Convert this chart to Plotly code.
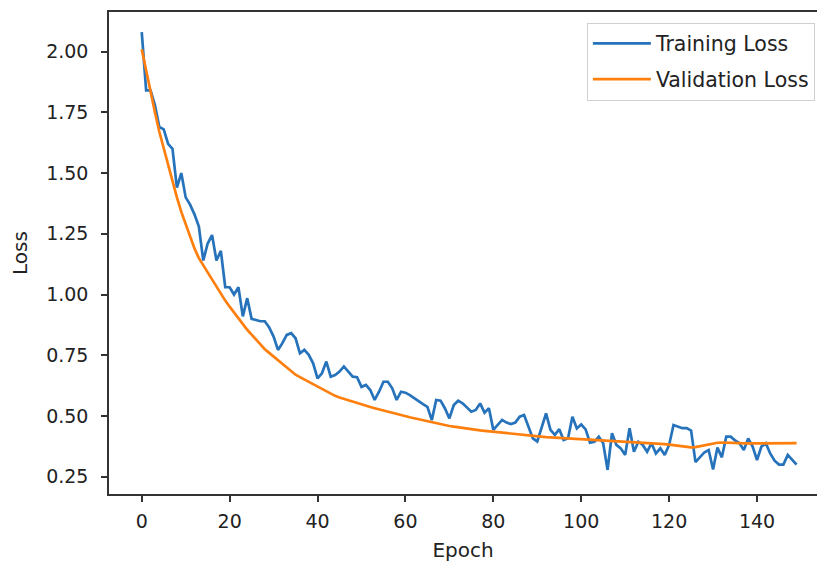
import plotly.graph_objects as go

epochs = list(range(150))

train_loss = [
    2.08, 1.84, 1.84, 1.78, 1.69, 1.68, 1.62, 1.60, 1.44, 1.50,
    1.40, 1.37, 1.33, 1.28, 1.14, 1.21, 1.245, 1.14, 1.18, 1.03,
    1.03, 1.00, 1.03, 0.91, 0.985, 0.90, 0.895, 0.89, 0.89, 0.865,
    0.827, 0.772, 0.80, 0.834, 0.841, 0.82, 0.758, 0.772, 0.752, 0.717,
    0.655, 0.676, 0.724, 0.662, 0.669, 0.683, 0.704, 0.683, 0.662, 0.66,
    0.62, 0.628, 0.607, 0.566, 0.60, 0.641, 0.641, 0.614, 0.566, 0.60,
    0.596, 0.586, 0.573, 0.559, 0.549, 0.538, 0.483, 0.566, 0.563, 0.531,
    0.49, 0.545, 0.563, 0.552, 0.535, 0.518, 0.525, 0.552, 0.514, 0.532,
    0.443, 0.463, 0.484, 0.473, 0.467, 0.473, 0.497, 0.504, 0.454, 0.408,
    0.395, 0.456, 0.511, 0.443, 0.422, 0.446, 0.401, 0.408, 0.497, 0.449,
    0.465, 0.445, 0.39, 0.394, 0.415, 0.388, 0.278, 0.429, 0.381, 0.367,
    0.34, 0.45, 0.353, 0.394, 0.381, 0.353, 0.388, 0.346, 0.367, 0.34,
    0.381, 0.463, 0.456, 0.45, 0.45, 0.44, 0.31, 0.33, 0.35, 0.36,
    0.28, 0.37, 0.33, 0.415, 0.415, 0.40, 0.388, 0.36, 0.408, 0.374,
    0.319, 0.374, 0.388, 0.346, 0.316, 0.30, 0.30, 0.34, 0.32, 0.30,
]

val_loss = [
    2.01, 1.92, 1.83, 1.75, 1.67, 1.60, 1.53, 1.46, 1.40, 1.34,
    1.29, 1.24, 1.19, 1.15, 1.12, 1.09, 1.06, 1.03, 1.00, 0.975,
    0.95, 0.925, 0.90, 0.88, 0.855, 0.835, 0.815, 0.795, 0.775, 0.76,
    0.745, 0.73, 0.715, 0.70, 0.685, 0.67, 0.66, 0.65, 0.64, 0.63,
    0.62, 0.61, 0.60, 0.59, 0.583, 0.576, 0.57, 0.564, 0.558, 0.552,
    0.547, 0.542, 0.537, 0.532, 0.527, 0.522, 0.517, 0.512, 0.507, 0.503,
    0.499, 0.495, 0.491, 0.487, 0.483, 0.479, 0.472, 0.468, 0.465, 0.462,
    0.459, 0.456, 0.453, 0.450, 0.447, 0.445, 0.443, 0.441, 0.439, 0.437,
    0.435, 0.433, 0.431, 0.429, 0.427, 0.425, 0.423, 0.421, 0.419, 0.417,
    0.415, 0.414, 0.413, 0.412, 0.411, 0.410, 0.409, 0.408, 0.407, 0.406,
    0.405, 0.404, 0.403, 0.402, 0.401, 0.400, 0.400, 0.399, 0.398, 0.397,
    0.396, 0.395, 0.394, 0.393, 0.392, 0.391, 0.389, 0.388, 0.386, 0.384,
    0.382, 0.380, 0.378, 0.375, 0.372, 0.371, 0.372, 0.376, 0.381, 0.385,
    0.388, 0.390, 0.391, 0.391, 0.390, 0.389, 0.388, 0.387, 0.387, 0.388,
    0.389, 0.389, 0.389, 0.390, 0.390, 0.390, 0.390, 0.389, 0.389, 0.388,
]

x_ticks = [0, 20, 40, 60, 80, 100, 120, 140]
y_ticks = [0.25, 0.50, 0.75, 1.00, 1.25, 1.50, 1.75, 2.00]
y_tick_labels = ["0.25", "0.50", "0.75", "1.00", "1.25", "1.50", "1.75", "2.00"]

FONT = "DejaVu Sans"
TXT = "#222222"
AX = "#333333"

fig = go.Figure()
fig.add_trace(go.Scatter(
    x=epochs, y=train_loss, mode="lines", name="Training Loss",
    line=dict(color="#2673bb", width=2.7), legendgroup="a",
))
fig.add_trace(go.Scatter(
    x=epochs, y=val_loss, mode="lines", name="Validation Loss",
    line=dict(color="#ff7f0e", width=2.7), legendgroup="b",
))

fig.update_layout(
    width=817, height=565,
    margin=dict(l=109, r=0, t=12, b=71, autoexpand=False),
    paper_bgcolor="white", plot_bgcolor="white",
    font=dict(family=FONT, size=20, color=TXT),
    showlegend=True,
    legend=dict(
        x=0.997, y=0.978, xanchor="right", yanchor="top",
        bgcolor="rgba(255,255,255,0.8)", bordercolor="#d0d0d0", borderwidth=1,
        font=dict(family=FONT, size=20.5, color=TXT),
        tracegroupgap=6, itemwidth=58,
    ),
    xaxis=dict(
        range=[-7.45, 153.65], tickvals=x_ticks, automargin=False,
        showgrid=False, zeroline=False,
        showline=True, linecolor=AX, linewidth=1.5, mirror=True,
        ticks="outside", ticklen=6, tickwidth=1.5, tickcolor=AX,
        ticklabelstandoff=3,
        tickfont=dict(family=FONT, size=19, color=TXT),
        title=dict(text="Epoch", font=dict(family=FONT, size=20, color=TXT), standoff=12),
    ),
    yaxis=dict(
        range=[0.179, 2.163], tickvals=y_ticks, ticktext=y_tick_labels, automargin=False,
        showgrid=False, zeroline=False,
        showline=True, linecolor=AX, linewidth=1.5,
        ticks="outside", ticklen=6, tickwidth=1.5, tickcolor=AX,
        ticklabelstandoff=9,
        tickfont=dict(family=FONT, size=19, color=TXT),
        title=dict(text="Loss", font=dict(family=FONT, size=20, color=TXT), standoff=13),
    ),
)

fig.write_html(
    "out.html",
    config=dict(displayModeBar=False),
    post_script="document.body.style.margin='0';document.body.style.overflow='hidden';",
)
